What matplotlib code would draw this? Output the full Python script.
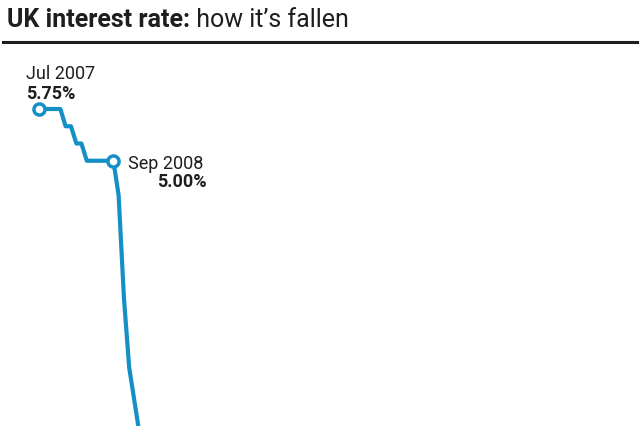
import matplotlib
matplotlib.use("Agg")
import matplotlib.pyplot as plt
import pandas as pd

# ---- data (monthly Bank Rate, %) ----
months = ["2007-07", "2007-08", "2007-09", "2007-10", "2007-11", "2007-12",
          "2008-01", "2008-02", "2008-03", "2008-04", "2008-05", "2008-06",
          "2008-07", "2008-08", "2008-09", "2008-10", "2008-11", "2008-12",
          "2009-01", "2009-02"]
rates = [5.75, 5.75, 5.75, 5.75, 5.75, 5.50,
         5.50, 5.25, 5.25, 5.00, 5.00, 5.00,
         5.00, 5.00, 5.00, 4.50, 3.00, 2.00,
         1.50, 1.00]
highlight_months = ["2007-07", "2008-09"]
highlight_dates = ["Jul 2007", "Sep 2008"]
highlight_values = ["5.75%", "5.00%"]

title_bold = "UK interest rate:"
title_rest = " how it\u2019s fallen"

LINE = "#1590c6"
DARK = "#1e1e1e"

fam = ["Roboto", "DejaVu Sans"]

x = pd.to_datetime(months)
W, H = 640, 427
fig = plt.figure(figsize=(W / 100, H / 100), dpi=100)
fig.patch.set_facecolor("white")

top_px = 65
ax = fig.add_axes([0, 0, 1, 1 - top_px / H])
ax.set_axis_off()

px_per_month = 5.29
px_per_day = px_per_month * 12 / 365.25
x0 = pd.Timestamp("2007-07-01")
left = x0 - pd.Timedelta(days=(39) / px_per_day)
right = x0 + pd.Timedelta(days=(W - 39) / px_per_day)
ax.set_xlim(left, right)
px_per_pct = 69.0
ytop = 5.75 + (110 - top_px) / px_per_pct
ybot = ytop - (H - top_px) / px_per_pct
ax.set_ylim(ybot, ytop)

ax.plot(x, rates, color=LINE, lw=3.0, solid_joinstyle="round",
        solid_capstyle="butt", zorder=2)

hx = pd.to_datetime(highlight_months)
hy = [rates[months.index(m)] for m in highlight_months]
ax.plot(hx, hy, ls="none", marker="o", ms=8, mew=2.5, mfc="white",
        mec=LINE, zorder=3)

# annotations (positions in figure pixels)
def ftxt(px, py, s, **kw):
    fig.text(px / W, 1 - py / H, s, family=fam, color=DARK, **kw)

ftxt(26, 79, highlight_dates[0], fontsize=13, va="baseline", ha="left")
ftxt(26, 99, highlight_values[0], fontsize=13, va="baseline", ha="left",
     weight="bold")
ftxt(128, 169, highlight_dates[1], fontsize=13, va="baseline", ha="left")
ftxt(207, 187, highlight_values[1], fontsize=13, va="baseline", ha="right",
     weight="bold")

# title
t1 = fig.text(7 / W, 1 - 27 / H, title_bold, family=fam, fontsize=18,
              weight="bold", color=DARK, va="baseline", ha="left")
fig.canvas.draw()
bb = t1.get_window_extent()
fig.text(bb.x1 / W, 1 - 27 / H, title_rest, family=fam, fontsize=18,
         color=DARK, va="baseline", ha="left")

fig.add_artist(plt.Line2D([3 / W, 637 / W], [1 - 43 / H, 1 - 43 / H],
                          color=DARK, lw=2.2, transform=fig.transFigure))

fig.savefig("out.png", dpi=100, facecolor="white")
